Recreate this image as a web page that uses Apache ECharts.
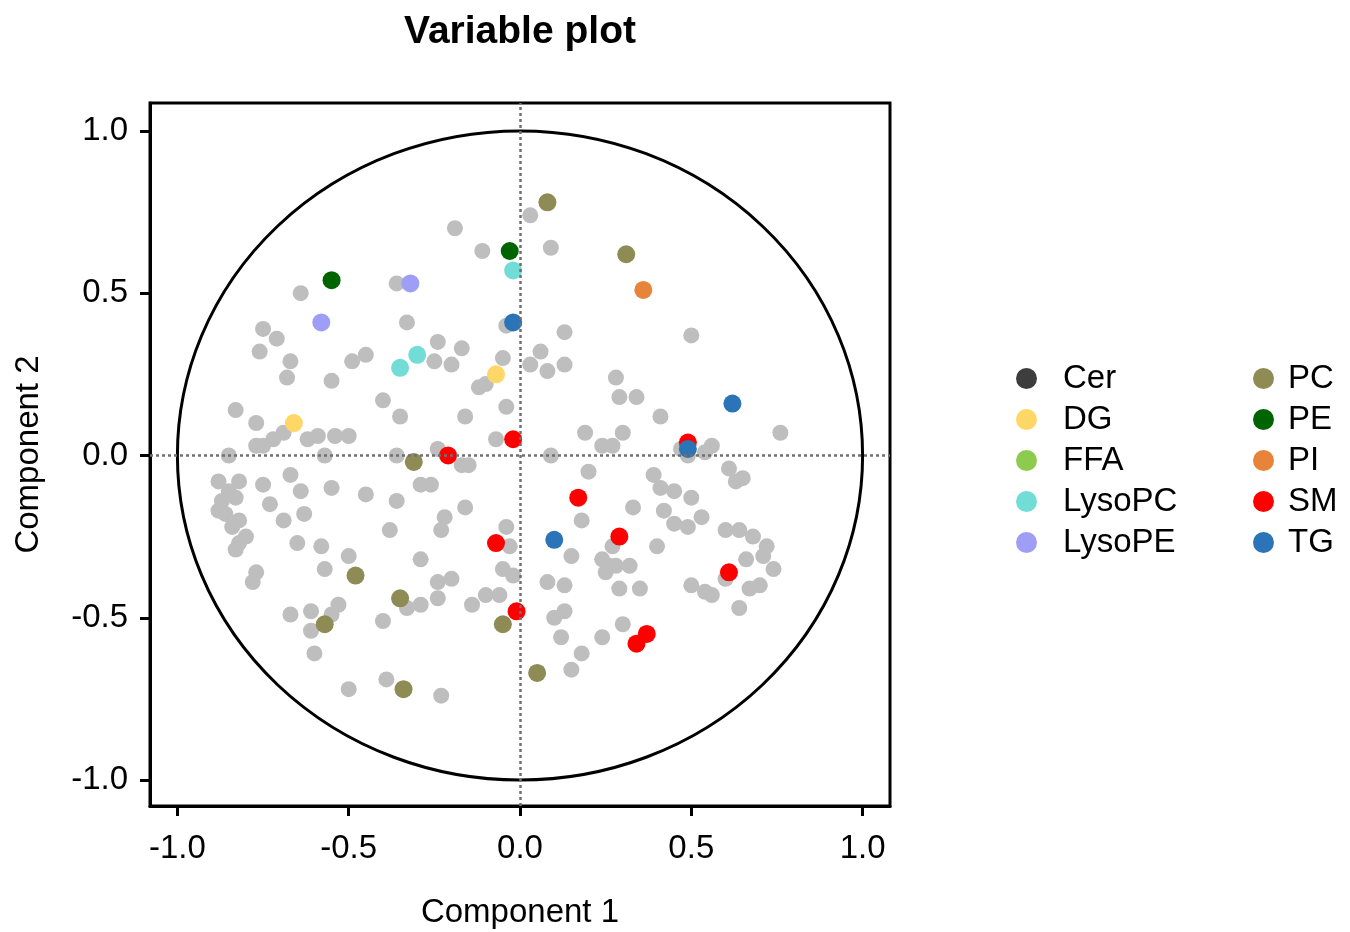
<!DOCTYPE html>
<html>
<head>
<meta charset="utf-8">
<script src="https://cdn.jsdelivr.net/npm/echarts@6/dist/echarts.min.js"></script>
<style>
html,body{margin:0;padding:0;background:#ffffff;}
#chart{width:1350px;height:932px;}
</style>
</head>
<body>
<div id="chart"></div>
<script>
// ---------- data ----------
const categories = ['Cer','DG','FFA','LysoPC','LysoPE','PC','PE','PI','SM','TG'];
const categoryColors = ['#3d3d3d','#fed766','#8ccb4e','#72dcd6','#9e9ef6','#8e8b55','#006400','#e8833a','#ff0000','#2b74b8'];
const tickValues = [-1.0,-0.5,0.0,0.5,1.0];
const circleRadius = 1;

const otherPts = [
 [-0.64,0.50],[-0.75,0.39],[-0.71,0.36],[-0.76,0.32],[-0.67,0.29],[-0.49,0.29],[-0.45,0.31],[-0.68,0.24],[-0.55,0.23],[-0.40,0.17],
 [-0.83,0.14],[-0.77,0.10],[-0.69,0.07],[-0.72,0.05],[-0.77,0.03],[-0.75,0.03],[-0.62,0.05],[-0.59,0.06],[-0.54,0.06],[-0.50,0.06],
 [-0.85,0.00],[-0.57,0.00],[-0.36,0.53],[-0.35,0.12],[0.03,0.74],[-0.19,0.70],[-0.11,0.63],[0.09,0.64],[-0.33,0.41],[-0.04,0.40],
 [0.13,0.38],[-0.24,0.35],[-0.17,0.33],[-0.25,0.29],[-0.20,0.28],[-0.05,0.30],[0.06,0.32],[0.03,0.28],[0.08,0.26],[0.13,0.28],
 [-0.12,0.21],[-0.10,0.22],[0.28,0.24],[0.29,0.18],[0.34,0.18],[-0.16,0.12],[-0.04,0.15],[0.19,0.07],[0.30,0.07],[0.24,0.03],
 [0.27,0.03],[-0.07,0.05],[-0.24,0.02],[0.09,0.00],[-0.36,0.00],[0.50,0.37],[0.41,0.12],[0.76,0.07],[0.47,0.02],[0.56,0.03],
 [0.54,0.01],
 [-0.67,-0.06],[-0.88,-0.08],[-0.82,-0.08],[-0.85,-0.11],[-0.83,-0.13],[-0.87,-0.14],[-0.88,-0.17],[-0.86,-0.18],[-0.75,-0.09],[-0.64,-0.11],
 [-0.55,-0.10],[-0.45,-0.12],[-0.36,-0.14],[-0.73,-0.15],[-0.63,-0.18],[-0.69,-0.20],[-0.82,-0.20],[-0.84,-0.22],[-0.80,-0.25],[-0.82,-0.27],
 [-0.83,-0.29],[-0.38,-0.23],[-0.65,-0.27],[-0.58,-0.28],[-0.50,-0.31],[-0.57,-0.35],[-0.77,-0.36],[-0.78,-0.39],[-0.53,-0.46],[-0.67,-0.49],
 [-0.61,-0.48],[-0.55,-0.49],[-0.61,-0.54],[-0.40,-0.51],[-0.60,-0.61],[-0.50,-0.72],[-0.39,-0.69],
 [-0.17,-0.03],[-0.15,-0.03],[0.20,-0.05],[-0.29,-0.09],[-0.26,-0.09],[-0.16,-0.16],[0.33,-0.16],[-0.22,-0.19],[0.18,-0.20],[-0.23,-0.23],
 [-0.04,-0.22],[-0.03,-0.28],[0.27,-0.28],[0.15,-0.31],[0.24,-0.32],[0.26,-0.34],[0.28,-0.34],[0.25,-0.36],[0.32,-0.34],[-0.29,-0.32],
 [-0.05,-0.35],[-0.02,-0.37],[-0.24,-0.39],[-0.20,-0.38],[0.08,-0.39],[0.13,-0.40],[0.29,-0.41],[0.35,-0.41],[-0.33,-0.47],[-0.29,-0.46],
 [-0.24,-0.44],[-0.14,-0.46],[-0.10,-0.43],[-0.06,-0.43],[0.10,-0.50],[0.13,-0.48],[0.12,-0.56],[0.24,-0.56],[0.30,-0.52],[0.18,-0.61],
 [0.15,-0.66],[-0.23,-0.74],
 [0.49,0.00],[0.61,-0.04],[0.63,-0.08],[0.65,-0.07],[0.39,-0.06],[0.41,-0.10],[0.45,-0.11],[0.50,-0.13],[0.42,-0.17],[0.53,-0.19],
 [0.45,-0.21],[0.49,-0.22],[0.60,-0.23],[0.64,-0.23],[0.68,-0.25],[0.72,-0.28],[0.71,-0.31],[0.66,-0.32],[0.74,-0.35],[0.40,-0.28],
 [0.60,-0.38],[0.50,-0.40],[0.54,-0.42],[0.56,-0.43],[0.67,-0.41],[0.70,-0.40],[0.64,-0.47]
];

const cerPts = [];
const dgPts = [[-0.66,0.10],[-0.07,0.25]];
const ffaPts = [];
const lysoPCPts = [[-0.02,0.57],[-0.30,0.31],[-0.35,0.27]];
const lysoPEPts = [[-0.32,0.53],[-0.58,0.41]];
const pcPts = [[0.08,0.78],[0.31,0.62],[-0.31,-0.02],[-0.48,-0.37],[-0.35,-0.44],[-0.57,-0.52],[-0.34,-0.72],[-0.05,-0.52],[0.05,-0.67]];
const pePts = [[-0.55,0.54],[-0.03,0.63]];
const piPts = [[0.36,0.51]];
const smPts = [[-0.21,0.00],[-0.02,0.05],[0.49,0.04],[0.17,-0.13],[-0.07,-0.27],[0.29,-0.25],[-0.01,-0.48],[0.61,-0.36],[0.37,-0.55],[0.34,-0.58]];
const tgPts = [[-0.02,0.41],[0.62,0.16],[0.49,0.02],[0.10,-0.26]];

const categoryPoints = [cerPts,dgPts,ffaPts,lysoPCPts,lysoPEPts,pcPts,pePts,piPts,smPts,tgPts];

// ---------- chart ----------
const FONT = "'Liberation Sans', Arial, sans-serif";
const chart = echarts.init(document.getElementById('chart'), null, {renderer:'canvas'});

const series = [
  {
    name: 'circle',
    type: 'custom',
    coordinateSystem: 'cartesian2d',
    data: [[0, 0, circleRadius]],
    silent: true,
    z: 1,
    renderItem: function (params, api) {
      const r = api.value(2);
      const c = api.coord([api.value(0), api.value(1)]);
      const px = api.coord([api.value(0) + r, api.value(1)]);
      const py = api.coord([api.value(0), api.value(1) + r]);
      const rx = px[0] - c[0];
      const ry = c[1] - py[1];
      const d = 'M ' + (c[0]-rx) + ' ' + c[1] +
                ' A ' + rx + ' ' + ry + ' 0 1 0 ' + (c[0]+rx) + ' ' + c[1] +
                ' A ' + rx + ' ' + ry + ' 0 1 0 ' + (c[0]-rx) + ' ' + c[1] + ' Z';
      return {
        type: 'path',
        shape: { pathData: d },
        style: { fill: 'none', stroke: '#000000', lineWidth: 3 }
      };
    },
    markLine: {
      silent: true,
      symbol: ['none','none'],
      label: { show: false },
      lineStyle: { type: [3, 3], color: '#707070', width: 2.5 },
      data: [{ xAxis: 0 }, { yAxis: 0 }]
    }
  },
  {
    name: 'Other',
    type: 'scatter',
    data: otherPts,
    symbol: 'circle',
    symbolSize: 16,
    itemStyle: { color: '#bebebe', opacity: 1 },
    z: 2
  }
];

categories.forEach(function (cat, i) {
  series.push({
    name: cat,
    type: 'scatter',
    data: categoryPoints[i],
    symbol: 'circle',
    symbolSize: 18,
    itemStyle: { color: categoryColors[i], opacity: 1 },
    z: 3
  });
});

const legendCommon = {
  orient: 'vertical',
  top: 362,
  padding: 0,
  itemWidth: 21,
  itemHeight: 21,
  itemGap: 8,
  icon: 'circle',
  selectedMode: false
};

const option = {
  animation: false,
  backgroundColor: '#ffffff',
  textStyle: { fontFamily: FONT },
  title: {
    text: 'Variable plot',
    left: 520,
    top: 13,
    padding: 0,
    textAlign: 'center',
    textStyle: { fontFamily: FONT, fontSize: 39, fontWeight: 'bold', color: '#000000' }
  },
  legend: [
    Object.assign({}, legendCommon, {
      left: 1016,
      data: categories.slice(0, 5),
      textStyle: { fontFamily: FONT, fontSize: 33, color: '#000000', padding: [0,0,0,21] }
    }),
    Object.assign({}, legendCommon, {
      left: 1253,
      data: categories.slice(5),
      textStyle: { fontFamily: FONT, fontSize: 33, color: '#000000', padding: [0,0,0,9] }
    })
  ],
  grid: {
    left: 150, top: 103, right: 460, bottom: 126,
    show: true, borderColor: '#000000', borderWidth: 3, backgroundColor: '#ffffff',
    containLabel: false,
    outerBoundsMode: 'none'
  },
  xAxis: {
    type: 'value',
    min: -1.08, max: 1.08,
    name: 'Component 1',
    nameLocation: 'middle',
    nameGap: 90,
    nameTextStyle: { fontFamily: FONT, fontSize: 33, color: '#000000' },
    axisLine: { show: true, onZero: false, lineStyle: { color: '#000000', width: 3 } },
    axisTick: { show: true, inside: false, length: 10, customValues: tickValues, lineStyle: { color: '#000000', width: 3 } },
    axisLabel: { show: true, margin: 26, customValues: tickValues, fontFamily: FONT, fontSize: 33, color: '#000000',
                 formatter: function (v) { return v.toFixed(1); } },
    splitLine: { show: false }
  },
  yAxis: {
    type: 'value',
    min: -1.08, max: 1.086,
    name: 'Component 2',
    nameLocation: 'middle',
    nameGap: 105,
    nameRotate: 90,
    nameTextStyle: { fontFamily: FONT, fontSize: 33, color: '#000000' },
    axisLine: { show: true, onZero: false, lineStyle: { color: '#000000', width: 3 } },
    axisTick: { show: true, inside: false, length: 10, customValues: tickValues, lineStyle: { color: '#000000', width: 3 } },
    axisLabel: { show: true, margin: 22, customValues: tickValues, fontFamily: FONT, fontSize: 33, color: '#000000',
                 formatter: function (v) { return v.toFixed(1); } },
    splitLine: { show: false }
  },
  series: series
};

chart.setOption(option);
</script>
</body>
</html>
